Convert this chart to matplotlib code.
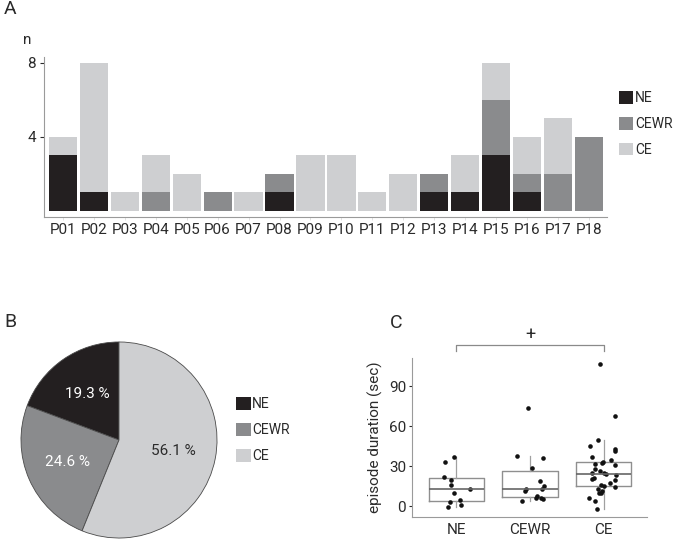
import numpy as np
import matplotlib
matplotlib.use("Agg")
from matplotlib import pyplot as plt
from matplotlib.patches import Patch

plt.rcParams['font.family'] = ['Roboto', 'DejaVu Sans']
plt.rcParams['font.weight'] = 'normal'

# ---- data ----
participants = ['P01', 'P02', 'P03', 'P04', 'P05', 'P06', 'P07', 'P08', 'P09',
                'P10', 'P11', 'P12', 'P13', 'P14', 'P15', 'P16', 'P17', 'P18']
ne_counts = [3, 1, 0, 0, 0, 0, 0, 1, 0, 0, 0, 0, 1, 1, 3, 1, 0, 0]
cewr_counts = [0, 0, 0, 1, 0, 1, 0, 1, 0, 0, 0, 0, 1, 0, 3, 1, 2, 4]
ce_counts = [1, 7, 1, 2, 2, 0, 1, 0, 3, 3, 1, 2, 0, 2, 2, 2, 3, 0]

groups = ['NE', 'CEWR', 'CE']
pie_totals = [sum(ne_counts), sum(cewr_counts), sum(ce_counts)]

# episode durations (sec) with the horizontal jitter
ne_dur = [36.5, 33, 22, 19.5, 16, 12.5, 10, 3, 4.2, 0.75, -1]
ne_jit = [-0.03, -0.16, -0.17, -0.07, -0.07, 0.19, -0.03, -0.09, 0.05, 0.06, -0.11]
cewr_dur = [73.7, 37.5, 36.3, 28.7, 18.5, 15.2, 12.5, 12.5, 11.2, 7.5, 6.2, 5.7, 5, 4]
cewr_jit = [-0.03, -0.17, 0.18, 0.03, 0.14, 0.19, 0.16, -0.06, -0.07, 0.10, 0.08, 0.15, 0.17, -0.11]
ce_dur = [107, 68, 49.5, 45, 42.5, 41.5, 37, 34.5, 33, 32.5, 31.5, 31, 27.5, 26, 25, 24.5,
          24, 23, 21, 20, 19.5, 17, 15.5, 15, 14.5, 13, 11, 10, 9.5, 6, 4, -2]
ce_jit = [-0.05, 0.15, -0.08, -0.19, 0.16, 0.15, -0.16, 0.10, -0.01, -0.02, -0.12, 0.16,
          -0.11, -0.05, -0.16, 0.01, 0.03, 0.17, -0.13, -0.16, 0.16, 0.09, -0.03, 0.0,
          0.16, -0.08, -0.02, -0.04, -0.06, -0.20, -0.11, -0.09]

colors = ['#231f20', '#8a8b8d', '#cecfd1']
spine_col = '#9a9a9a'
text_col = '#2a2a2a'
fs = 11

fig = plt.figure(figsize=(6.75, 5.41), dpi=100)

# ---- panel A: stacked bars ----
axA = fig.add_axes([0.0656, 0.5983, 0.8332, 0.2963])
x = np.arange(len(participants))
bottom = np.zeros(len(participants))
for vals, col, lab in zip([ne_counts, cewr_counts, ce_counts], colors, groups):
    axA.bar(x, vals, width=0.91, bottom=bottom, color=col, label=lab, linewidth=0)
    bottom += np.array(vals)
axA.set_xlim(-0.6, 17.57)
axA.set_ylim(-0.36, 8.31)
axA.set_xticks(x)
axA.set_xticklabels(participants)
axA.set_yticks([4, 8])
axA.tick_params(axis='y', length=3, width=0.8, color=text_col, labelsize=fs,
                labelcolor=text_col, pad=3)
axA.tick_params(axis='x', length=2, width=0.6, color='#dddddd', labelsize=fs,
                labelcolor=text_col, pad=2)
for s in ['top', 'right']:
    axA.spines[s].set_visible(False)
for s in ['left', 'bottom']:
    axA.spines[s].set_color(spine_col)
    axA.spines[s].set_linewidth(0.8)
fig.text(0.041, 0.926, 'n', fontsize=fs, color=text_col, ha='center', va='center')
fig.text(0.006, 0.983, 'A', fontsize=14, color=text_col, ha='left', va='center')

handles = [Patch(facecolor=c, edgecolor='none', label=g) for c, g in zip(colors, groups)]
leg_kw = dict(frameon=False, handlelength=1.06, handleheight=1.06, handletextpad=0.12,
              labelspacing=0.84, borderpad=0, borderaxespad=0, fontsize=10,
              loc='upper left', bbox_transform=fig.transFigure, labelcolor=text_col)
axA.legend(handles=handles, bbox_to_anchor=(0.9166, 0.8323), **leg_kw)

# ---- panel B: pie ----
axB = fig.add_axes([20 / 675, 1 - 539 / 541, 198 / 675, 198 / 541])
wedges, texts, autotexts = axB.pie(
    pie_totals, colors=colors, startangle=90, counterclock=True,
    autopct=lambda p: f'{p:.1f} %', pctdistance=0.57,
    wedgeprops=dict(edgecolor='#4a4a4a', linewidth=0.6),
    textprops=dict(fontsize=fs))
for t, c in zip(autotexts, ['white', 'white', text_col]):
    t.set_color(c)
axB.set_xlim(-1.01, 1.01)
axB.set_ylim(-1.01, 1.01)
axB.set_aspect('equal')
fig.text(0.006, 0.405, 'B', fontsize=14, color=text_col, ha='left', va='center')
axB.legend(handles=handles, bbox_to_anchor=(0.3496, 0.2662), **leg_kw)

# ---- panel C: box plot with points ----
axC = fig.add_axes([0.6108, 0.04436, 0.3477, 0.2933])
data = [ne_dur, cewr_dur, ce_dur]
jits = [ne_jit, cewr_jit, ce_jit]
axC.boxplot(data, positions=[1, 2, 3], widths=0.75, showfliers=False, showcaps=False,
            boxprops=dict(color='#8f8f8f', linewidth=1.0),
            whiskerprops=dict(color='#a0a0a0', linewidth=0.9),
            medianprops=dict(color='#666666', linewidth=1.2))
for i, (d, j) in enumerate(zip(data, jits)):
    axC.plot(np.array(j) + i + 1, d, 'o', color='#111111', markersize=3.3,
             markeredgewidth=0)
axC.set_xlim(0.4, 3.59)
axC.set_ylim(-8.25, 111)
axC.set_yticks([0, 30, 60, 90])
axC.set_xticks([1, 2, 3])
axC.set_xticklabels(groups)
axC.tick_params(axis='y', length=2.5, width=0.8, color=text_col, labelsize=fs,
                labelcolor=text_col, pad=2)
axC.tick_params(axis='x', length=0, labelsize=fs, labelcolor=text_col, pad=4)
axC.set_ylabel('episode duration (sec)', fontsize=fs, color=text_col, labelpad=4)
for s in ['top', 'right']:
    axC.spines[s].set_visible(False)
for s in ['left', 'bottom']:
    axC.spines[s].set_color(spine_col)
    axC.spines[s].set_linewidth(0.8)
# significance bracket
axC.plot([1, 1, 3, 3], [116.5, 120.8, 120.8, 116.5], color='#8a8a8a', linewidth=0.9,
         clip_on=False)
axC.text(2, 122.0, '+', fontsize=13, color=text_col, ha='center', va='bottom',
         clip_on=False)
fig.text(0.577, 0.403, 'C', fontsize=14, color=text_col, ha='left', va='center')

fig.savefig('out.png', dpi=100)
